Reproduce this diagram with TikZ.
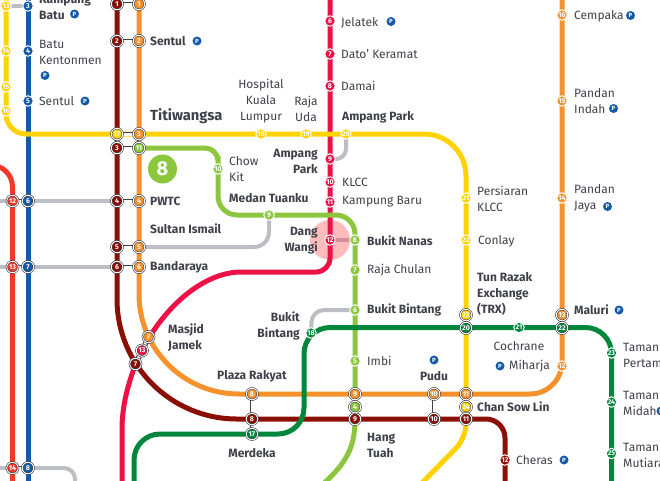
\documentclass[tikz,border=0pt]{standalone}
\usepackage{fontspec}
\setmainfont{Fira Sans}
\usetikzlibrary{backgrounds}

\definecolor{yellowln}{HTML}{FFD200}
\definecolor{orangeln}{HTML}{F5922B}
\definecolor{maroonln}{HTML}{8A1005}
\definecolor{redln}{HTML}{F0392B}
\definecolor{blueln}{HTML}{1659A8}
\definecolor{pinkln}{HTML}{EC1248}
\definecolor{limeln}{HTML}{8CC63F}
\definecolor{greenln}{HTML}{00873C}
\definecolor{greyln}{HTML}{BCBEC4}
\definecolor{inkln}{HTML}{3F4049}

\tikzset{
  stn/.style={circle, draw=white, line width=1pt, minimum size=10.5pt, inner sep=0pt,
    text=white, font=\fontsize{7}{7}\selectfont\bfseries},
  xchg/.style={draw=inkln, double=white, double distance=0.9pt, line width=0.6pt, minimum size=11.5pt},
  yl/.style={stn, fill=yellowln},
  og/.style={stn, fill=orangeln},
  mr/.style={stn, fill=maroonln},
  rd/.style={stn, fill=redln},
  bl/.style={stn, fill=blueln},
  kj/.style={stn, fill=pinkln},
  lm/.style={stn, fill=limeln},
  gn/.style={stn, fill=greenln},
  track/.style={line width=5pt},
  walk/.style={line width=4pt, greyln},
  hop/.style={preaction={draw=inkln, line width=4.6pt}, draw=white, line width=3pt},
  lbl/.style={anchor=west, align=left, inner sep=0pt, text=inkln, font=\fontsize{12}{16}\selectfont},
  lblb/.style={lbl, font=\fontsize{12}{16}\selectfont\bfseries},
  park/.style={circle, fill=blueln, inner sep=0pt, minimum size=9pt, text=white,
    font=\fontsize{6}{6}\selectfont\bfseries}
}

\begin{document}
\begin{tikzpicture}[x=1pt,y=-1pt]
    \clip (0,0) rectangle (660,480);

    % Free line ends
    \coordinate (ylout) at (6,-6);
    \coordinate (yldown) at (415,490);
    \coordinate (blup) at (28,-6);
    \coordinate (bldown) at (28,490);
    \coordinate (rdup) at (-24,165);
    \coordinate (rddown) at (12.5,490);
    \coordinate (mrup) at (117,-6);
    \coordinate (mrdown) at (505,490);
    \coordinate (ogup) at (562,-6);
    \coordinate (kjup) at (330,-6);
    \coordinate (kjdown) at (122,490);
    \coordinate (lmdown) at (323,484);
    \coordinate (gnleft) at (134,490);
    \coordinate (gndown) at (611.5,490);
    \coordinate (walka) at (-6,201);
    \coordinate (walkb) at (-6,267);
    \coordinate (walkc) at (-6,468);
    \coordinate (walkd) at (75,490);

    % Ampang line
    \node[yl] (yl13) at (6,6) {13};
    \node[yl] (yl14) at (6,51) {14};
    \node[yl] (yl15) at (6,87) {15};
    \node[yl] (yl16) at (6,111) {16};
    \node[yl,xchg] (yl17) at (117,134) {17};
    \node[yl] (yl18) at (261,134) {18};
    \node[yl] (yl19) at (306,134) {19};
    \node[yl] (yl20) at (346,134) {20};
    \node[yl] (yl21) at (466,198) {21};
    \node[yl] (yl22) at (466,240) {22};
    \node[yl,xchg] (yl23) at (466,315) {23};
    \node[yl,xchg] (yl24) at (466,407) {24};

    % Kelana line
    \node[bl] (bl3) at (28,6) {3};
    \node[bl] (bl4) at (28,51) {4};
    \node[bl] (bl5) at (28,101) {5};
    \node[bl,xchg] (bl6) at (28,201) {6};
    \node[bl,xchg] (bl7) at (28,267) {7};
    \node[bl,xchg] (bl8) at (28,468) {8};
    \node[rd,xchg] (rd12) at (12.5,201) {12};
    \node[rd,xchg] (rd13) at (12.5,267) {13};
    \node[rd,xchg] (rd14) at (12.5,468) {14};

    % Maroon line
    \node[mr,xchg] (mr1) at (117,4) {1};
    \node[mr,xchg] (mr2) at (117,41) {2};
    \node[mr,xchg] (mr3) at (117,148) {3};
    \node[mr,xchg] (mr4) at (117,201) {4};
    \node[mr,xchg] (mr5) at (117,247) {5};
    \node[mr,xchg] (mr6) at (117,267) {6};
    \node[mr,xchg] (mr7) at (135.5,364) {7};
    \node[mr,xchg] (mr8) at (252,419) {8};
    \node[mr,xchg] (mr9) at (355,419) {9};
    \node[mr,xchg] (mr10) at (434,419) {10};
    \node[mr,xchg] (mr11) at (466,419) {11};
    \node[mr] (mr12) at (505,460) {12};

    % Orange line
    \node[og,xchg] (og1) at (139,4) {1};
    \node[og,xchg] (og2) at (139,41) {2};
    \node[og,xchg] (og3) at (139,134) {3};
    \node[og,xchg] (og4) at (139,201) {4};
    \node[og,xchg] (og5) at (139,247) {5};
    \node[og,xchg] (og6) at (139,267) {6};
    \node[og,xchg] (og7) at (148.5,337) {7};
    \node[og,xchg] (og8) at (252,394) {8};
    \node[og,xchg] (og9) at (355,394) {9};
    \node[og,xchg] (og10) at (434,394) {10};
    \node[og,xchg] (og11) at (466,394) {11};
    \node[og] (og12) at (562,366) {12};
    \node[og,xchg] (og13) at (562,315) {13};
    \node[og] (og14) at (562,198) {14};
    \node[og] (og15) at (562,101) {15};
    \node[og] (og16) at (562,15) {16};

    % Pink line
    \node[kj] (kj6) at (330,21) {6};
    \node[kj] (kj7) at (330,54) {7};
    \node[kj] (kj8) at (330,86) {8};
    \node[kj] (kj9) at (330,159) {9};
    \node[kj] (kj10) at (330,182) {10};
    \node[kj] (kj11) at (330,202) {11};
    \node[kj] (kj12) at (330,240) {12};
    \node[kj,xchg] (kj13) at (142,350.5) {13};

    % Lime line
    \node[lm,xchg] (lm11) at (139,148) {11};
    \node[lm] (lm10) at (218,169) {10};
    \node[lm] (lm9) at (269,215) {9};
    \node[lm] (lm8) at (355,240) {8};
    \node[lm] (lm7) at (355,270) {7};
    \node[lm] (lm6) at (355,310) {6};
    \node[lm] (lm5) at (355,361) {5};
    \node[lm,xchg] (lm4) at (355,407) {4};

    % Green line
    \node[gn,xchg] (gn17) at (252,434) {17};
    \node[gn] (gn18) at (311,333) {18};
    \node[gn,xchg] (gn20) at (466,328) {20};
    \node[gn] (gn21) at (519,327.5) {21};
    \node[gn,xchg] (gn22) at (562,328) {22};
    \node[gn] (gn23) at (611.5,353) {23};
    \node[gn] (gn24) at (611.5,402) {24};
    \node[gn] (gn25) at (611.5,453.5) {25};

    \begin{pgfonlayer}{background}
        % Walking links
        \draw[walk] (yl13.center) -- (bl3.center);
        \draw[walk] (walka) -- (rd12.center);
        \draw[walk] (walkb) -- (rd13.center);
        \draw[walk] (walkc) -- (rd14.center);
        \draw[walk] (bl6.center) -- (mr4.center);
        \draw[walk] (bl7.center) -- (mr6.center);
        \draw[walk, rounded corners=11] (bl8.center) -- (75,468) -- (walkd);
        \draw[walk, rounded corners=15] (og5.center) -- (269,247) -- (lm9.center);
        \draw[walk, rounded corners=10] (yl20.center) -- (346,159) -- (kj9.center);
        \draw[walk, rounded corners=12] (lm6.center) -- (312,310) -- (gn18.center);
        \draw[walk] (kj12.center) -- (lm8.center);

        % Dang Wangi highlight
        \fill[red!80, opacity=0.33] (kj12.center) circle (20);

        % Lines
        \draw[track, blueln] (blup) -- (bl8.center) -- (bldown);
        \draw[track, redln, rounded corners=22] (rdup) -- (12.5,165) -- (rddown);
        \draw[track, pinkln, rounded corners=14] (kjup) -- (kj12.center) -- (330,272) -- (255,272)
            [sharp corners] .. controls (205,272) and (165,305) .. (kj13.center) -- (mr7.center)
            .. controls (128,385) and (122,405) .. (122,430) -- (kjdown);
        \draw[track, limeln, rounded corners=13] (lm11.center) -- (218,148) -- (lm10.center)
            [rounded corners=19] -- (218,215) -- (355,215) -- (mr9.center);
        \draw[track, limeln] (mr9.center) .. controls (355,445) and (348,462) .. (lmdown);
        \draw[track, yellowln, rounded corners=20] (ylout) -- (6,134) -- (yl20.center)
            [rounded corners=42] -- (466,134) -- (yl22.center) [rounded corners=14] -- (466,438) -- (yldown);
        \draw[track, maroonln] (mrup) -- (mr6.center) -- (117,299) arc[start angle=180, end angle=90, radius=120]
            -- (mr8.center) [rounded corners=19] -- (505,419) -- (mrdown);
        \draw[track, orangeln] (og1.center) -- (og6.center) -- (139,294) arc[start angle=180, end angle=90, radius=100]
            -- (og8.center) [rounded corners=32] -- (562,394) -- (ogup);
        \draw[track, greenln, rounded corners=26] (gnleft) -- (134,434) -- (304,434)
            -- (304,327.5) -- (611.5,327.5) [rounded corners=15] -- (gndown);

        % Interchange links
        \draw[hop] (mr1) -- (og1);
        \draw[hop] (mr2) -- (og2);
        \draw[hop] (yl17) -- (og3);
        \draw[hop] (mr3) -- (lm11);
        \draw[hop] (yl17) -- (mr3);
        \draw[hop] (og3) -- (lm11);
        \draw[hop] (mr4) -- (og4);
        \draw[hop] (mr5) -- (og5);
        \draw[hop] (mr6) -- (og6);
        \draw[hop] (rd12) -- (bl6);
        \draw[hop] (rd13) -- (bl7);
        \draw[hop] (rd14) -- (bl8);
        \draw[hop] (og7) -- (kj13);
        \draw[hop] (kj13) -- (mr7);
        \draw[hop] (og8) -- (mr8);
        \draw[hop] (mr8) -- (gn17);
        \draw[hop] (og9) -- (lm4);
        \draw[hop] (lm4) -- (mr9);
        \draw[hop] (og10) -- (mr10);
        \draw[hop] (og11) -- (yl24);
        \draw[hop] (yl24) -- (mr11);
        \draw[hop] (yl23) -- (gn20);
        \draw[hop] (og13) -- (gn22);
    \end{pgfonlayer}

    % Line badge
    \node[circle, fill=limeln, minimum size=29pt, inner sep=0pt, text=white, font=\fontsize{20}{20}\selectfont\bfseries] (badge) at (162.5,169) {8};

    % Station names
    \node[lblb] (kampungbatu) at (39,7) {Kampung\\Batu};
    \node[lbl] (batukent) at (39,52) {Batu\\Kentonmen};
    \node[lbl] (sentula) at (39,101) {Sentul};
    \node[lblb] (sentulb) at (150,41) {Sentul};
    \node[lblb, font=\fontsize{14.7}{16}\selectfont\bfseries] (titiwangsa) at (150,116) {Titiwangsa};
    \node[lbl, anchor=center, align=center] (hkl) at (261,101) {Hospital\\Kuala\\Lumpur};
    \node[lbl, anchor=center, align=center] (rajauda) at (306,109) {Raja\\Uda};
    \node[lbl] (jelatek) at (341,22.5) {Jelatek};
    \node[lbl] (datok) at (341,54) {Dato' Keramat};
    \node[lbl] (damai) at (341,86) {Damai};
    \node[lblb] (ampangpa) at (342,117) {Ampang Park};
    \node[lblb, anchor=east, align=right] (ampangpb) at (318,161) {Ampang\\Park};
    \node[lbl] (chowkit) at (229,169) {Chow\\Kit};
    \node[lblb] (medan) at (229,198) {Medan Tuanku};
    \node[lbl] (klcc) at (342,182) {KLCC};
    \node[lbl] (kgbaru) at (342,202) {Kampung Baru};
    \node[lblb] (pwtc) at (150,201) {PWTC};
    \node[lblb] (sultan) at (150,229) {Sultan Ismail};
    \node[lblb] (bandaraya) at (150,267) {Bandaraya};
    \node[lblb, anchor=east, align=right] (dang) at (318,241) {Dang\\Wangi};
    \node[lblb] (nanas) at (367,241) {Bukit Nanas};
    \node[lbl] (chulan) at (367,270) {Raja Chulan};
    \node[lblb] (bintanga) at (367,310) {Bukit Bintang};
    \node[lblb, anchor=east, align=right] (bintangb) at (300,326) {Bukit\\Bintang};
    \node[lblb] (masjid) at (168,338) {Masjid\\Jamek};
    \node[lblb, anchor=center] (plaza) at (252,376) {Plaza Rakyat};
    \node[lbl] (imbi) at (367,361) {Imbi};
    \node[lblb, anchor=center] (pudu) at (434,376) {Pudu};
    \node[lblb, anchor=center] (merdeka) at (252,453) {Merdeka};
    \node[lblb] (hangtuah) at (367,445) {Hang\\Tuah};
    \node[lbl] (persiaran) at (477,199) {Persiaran\\KLCC};
    \node[lbl] (conlay) at (478,241) {Conlay};
    \node[lblb] (trx) at (477,294) {Tun Razak\\Exchange\\(TRX)};
    \node[lblb] (maluri) at (574,310) {Maluri};
    \node[lbl, anchor=center] (cochrane) at (519,346) {Cochrane};
    \node[lbl] (miharja) at (509,366) {Miharja};
    \node[lblb] (chan) at (477,407) {Chan Sow Lin};
    \node[lbl] (cheras) at (516,460) {Cheras};
    \node[lbl] (cempaka) at (574,16) {Cempaka};
    \node[lbl] (indah) at (574,101) {Pandan\\Indah};
    \node[lbl] (jaya) at (574,198) {Pandan\\Jaya};
    \node[lbl] (pertama) at (623,355) {Taman\\Pertama};
    \node[lbl] (midah) at (623,403) {Taman\\Midah};
    \node[lbl] (mutiara) at (623,455) {Taman\\Mutiara};

    % Parking marks
    \node[park] (pa) at (74.5,14) {P};
    \node[park] (pb) at (45,75.5) {P};
    \node[park] (pc) at (85,101) {P};
    \node[park] (pd) at (197,41) {P};
    \node[park] (pe) at (391,21.5) {P};
    \node[park] (pf) at (434,360) {P};
    \node[park] (pg) at (500,366) {P};
    \node[park] (ph) at (564,460) {P};
    \node[park] (pi) at (619,310) {P};
    \node[park] (pj) at (630.5,15.5) {P};
    \node[park] (pk) at (613.5,108.5) {P};
    \node[park] (pl) at (607.5,206.5) {P};
    \node[park] (pm) at (661,411) {P};
\end{tikzpicture}
\end{document}
